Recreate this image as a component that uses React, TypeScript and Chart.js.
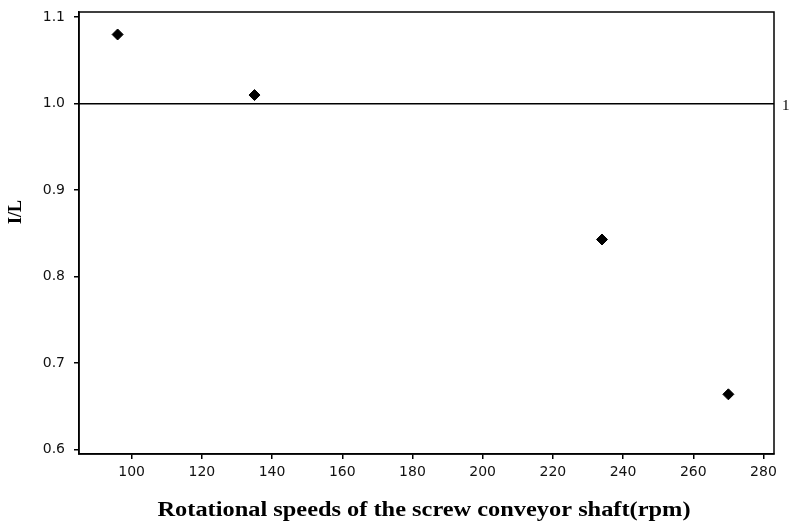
import React, { useEffect, useRef } from "react";
import { Chart, registerables } from "chart.js";

Chart.register(...registerables);

const speeds = [96, 135, 234, 270];
const ratios = [1.08, 1.01, 0.843, 0.664];
const xTicks = [100, 120, 140, 160, 180, 200, 220, 240, 260, 280];
const yTicks = [0.6, 0.7, 0.8, 0.9, 1.0, 1.1];
const refValue = 1.0;
const xTitle = "Rotational speeds of the screw conveyor shaft(rpm)";
const yTitle = "I/L";
const refLabel = "1";

const overlay = {
  id: "overlay",
  afterDraw(chart: any) {
    const { ctx, chartArea } = chart;
    const ys = chart.scales.y;
    ctx.save();
    ctx.strokeStyle = "#000";
    ctx.lineWidth = 1.5;
    ctx.strokeRect(chartArea.left, chartArea.top, chartArea.right - chartArea.left, chartArea.bottom - chartArea.top);
    const yr = ys.getPixelForValue(refValue);
    ctx.beginPath();
    ctx.moveTo(chartArea.left, yr);
    ctx.lineTo(chartArea.right, yr);
    ctx.stroke();
    ctx.fillStyle = "#000";
    ctx.font = "15px 'Liberation Serif'";
    ctx.textAlign = "left";
    ctx.textBaseline = "middle";
    ctx.fillText(refLabel, chartArea.right + 8, yr + 2);

    ctx.save();
    ctx.font = "bold 20px 'Liberation Serif'";
    const w = ctx.measureText(xTitle).width;
    const target = 533;
    ctx.translate(424, 511);
    ctx.scale(target / w, 1);
    ctx.textAlign = "center";
    ctx.textBaseline = "middle";
    ctx.fillText(xTitle, 0, 0);
    ctx.restore();

    ctx.translate(16, 212);
    ctx.rotate(-Math.PI / 2);
    ctx.font = "bold 18px 'Liberation Serif'";
    ctx.textAlign = "center";
    ctx.textBaseline = "middle";
    ctx.fillText(yTitle, 0, 0);
    ctx.restore();
  },
};

export default function App() {
  const ref = useRef<HTMLCanvasElement>(null);
  useEffect(() => {
    document.body.style.margin = "0";
    const chart = new Chart(ref.current!, {
      type: "scatter",
      data: {
        datasets: [
          {
            data: speeds.map((s, i) => ({ x: s, y: ratios[i] })),
            backgroundColor: "#000",
            borderColor: "#000",
            pointStyle: "rectRot",
            pointRadius: 5.5,
            borderWidth: 1,
          },
        ],
      },
      options: {
        animation: false,
        responsive: true,
        maintainAspectRatio: false,
        layout: { padding: { top: 12, right: 17, left: 0, bottom: 0 } },
        plugins: { legend: { display: false }, tooltip: { enabled: false } },
        scales: {
          x: {
            type: "linear",
            min: 85,
            max: 283,
            afterBuildTicks: (s: any) => {
              s.ticks = xTicks.map((v) => ({ value: v }));
            },
            afterFit: (s: any) => {
              s.height = 76;
              s.paddingLeft = 0;
              s.paddingRight = 0;
            },
            grid: { drawOnChartArea: false, drawTicks: true, tickLength: 5, color: "#000", lineWidth: 1.5 },
            border: { display: true, color: "#000", width: 1.5 },
            ticks: {
              color: "#111",
              font: { family: "'DejaVu Sans'", size: 14 },
              padding: 5,
              maxRotation: 0,
              autoSkip: false,
            },
          },
          y: {
            type: "linear",
            min: 0.595,
            max: 1.106,
            afterBuildTicks: (s: any) => {
              s.ticks = yTicks.map((v) => ({ value: v }));
            },
            afterFit: (s: any) => {
              s.width = 79;
              s.paddingTop = 0;
              s.paddingBottom = 0;
            },
            grid: { drawOnChartArea: false, drawTicks: true, tickLength: 5, color: "#000", lineWidth: 1.5 },
            border: { display: true, color: "#000", width: 1.5 },
            ticks: {
              color: "#111",
              font: { family: "'DejaVu Sans'", size: 14 },
              padding: 9,
              autoSkip: false,
              callback: (v: any) => Number(v).toFixed(1),
            },
          },
        },
      },
      plugins: [overlay],
    });
    return () => chart.destroy();
  }, []);
  return (
    <div style={{ position: "fixed", left: 0, top: 0, width: 791, height: 530, background: "#fff" }}>
      <canvas ref={ref} />
    </div>
  );
}
